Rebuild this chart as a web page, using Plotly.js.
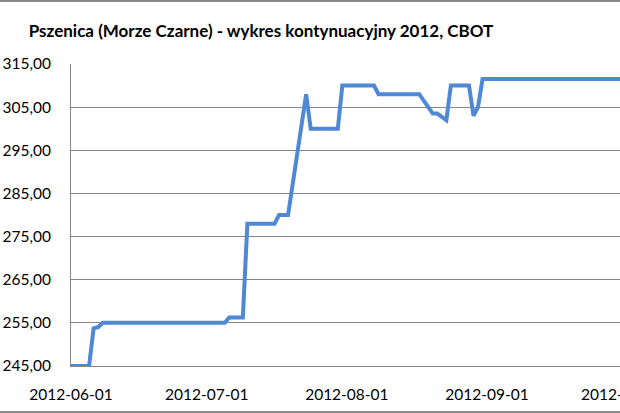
<!DOCTYPE html>
<html>
<head>
<meta charset="utf-8">
<script src="https://cdn.plot.ly/plotly-3.0.1.min.js"></script>
<style>
html, body { margin: 0; padding: 0; overflow: hidden; background: #fff; width: 620px; height: 413px; }
#chart { position: absolute; left: 0; top: 0; width: 697px; height: 413px; }
.edge { position: absolute; left: 0; width: 620px; background: #8c8c8c; z-index: 5; }
</style>
</head>
<body>
<div id="chart"></div>
<div class="edge" style="top:0;height:2px;"></div>
<div class="edge" style="top:411px;height:2px;"></div>
<script>
// Trading dates where the price line changes direction (vertices)
var dates = ['2012-06-01','2012-06-05','2012-06-06','2012-06-07','2012-06-08',
             '2012-07-05','2012-07-06','2012-07-09','2012-07-10','2012-07-16',
             '2012-07-17','2012-07-19','2012-07-23','2012-07-24','2012-07-30',
             '2012-07-31','2012-08-07','2012-08-08','2012-08-17','2012-08-20',
             '2012-08-21','2012-08-23','2012-08-24','2012-08-28','2012-08-29',
             '2012-08-30','2012-08-31','2012-10-15'];
var prices = [245, 245, 253.75, 254, 255,
              255, 256.25, 256.25, 278, 278,
              280, 280, 308, 300, 300,
              310, 310, 308, 308, 303.5,
              303.5, 302, 310, 310, 303,
              305, 311.5, 311.5];
var xTicks = ['2012-06-01','2012-07-01','2012-08-01','2012-09-01','2012-10-01'];
var yTicks = [245, 255, 265, 275, 285, 295, 305, 315];
var titleText = 'Pszenica (Morze Czarne) - wykres kontynuacyjny 2012, CBOT';

var trace = {
  x: dates, y: prices, type: 'scatter', mode: 'lines',
  line: { color: '#4F88D4', width: 4 },
  hoverinfo: 'skip'
};

var W = 697, H = 413;
var layout = {
  width: W, height: H,
  margin: { l: 71, r: 20, t: 64, b: 47, pad: 0 },
  paper_bgcolor: '#ffffff', plot_bgcolor: '#ffffff',
  separators: ', ',
  showlegend: false,
  title: {
    text: '<b>' + titleText + '</b>',
    font: { family: 'Lato, "Open Sans", sans-serif', size: 17, color: '#000000' },
    xref: 'container', yref: 'container',
    x: 261 / W, xanchor: 'center',
    y: 1 - 31 / H, yanchor: 'middle'
  },
  xaxis: {
    type: 'date',
    range: ['2012-06-01', '2012-10-13'],
    tickmode: 'array', tickvals: xTicks, tickformat: '%Y-%m-%d',
    showgrid: false, zeroline: false,
    showline: true, linecolor: '#868686', linewidth: 1,
    ticks: '', ticklabelstandoff: 14,
    tickfont: { family: 'Lato, sans-serif', size: 15.5, color: '#000000' },
    fixedrange: true
  },
  yaxis: {
    range: [245, 315],
    tickmode: 'array', tickvals: yTicks, tickformat: '.2f',
    showgrid: true, gridcolor: '#868686', gridwidth: 1,
    zeroline: false,
    showline: true, linecolor: '#868686', linewidth: 1,
    ticks: '', ticklabelstandoff: 16,
    tickfont: { family: 'Lato, sans-serif', size: 15.5, color: '#000000' },
    fixedrange: true
  }
};

Plotly.newPlot('chart', [trace], layout, { displayModeBar: false, staticPlot: true });
</script>
</body>
</html>
